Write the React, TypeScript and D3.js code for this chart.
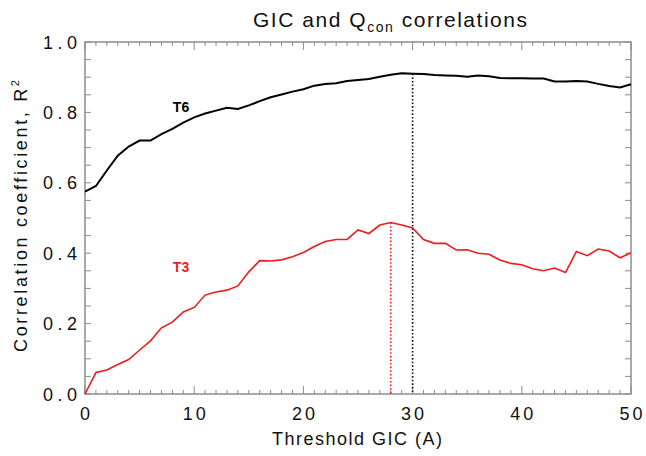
import React from "react";
import * as d3 from "d3";

const thresholds = d3.range(0, 51);
const t6Values = [
  0.575, 0.591, 0.635, 0.677, 0.703, 0.72, 0.72, 0.738, 0.753, 0.771, 0.786,
  0.797, 0.805, 0.813, 0.81, 0.82, 0.832, 0.843, 0.851, 0.859, 0.866, 0.876,
  0.881, 0.883, 0.889, 0.892, 0.895, 0.901, 0.907, 0.911, 0.91, 0.909, 0.906,
  0.905, 0.904, 0.901, 0.905, 0.903, 0.898, 0.897, 0.897, 0.896, 0.896, 0.888,
  0.888, 0.889, 0.888, 0.881, 0.875, 0.871, 0.88,
];
const t3Values = [
  0.0, 0.061, 0.068, 0.084, 0.098, 0.125, 0.151, 0.188, 0.204, 0.233, 0.246,
  0.281, 0.29, 0.295, 0.307, 0.347, 0.379, 0.378, 0.381, 0.39, 0.402, 0.419,
  0.433, 0.439, 0.439, 0.466, 0.456, 0.48, 0.487, 0.48, 0.472, 0.439, 0.428,
  0.428, 0.409, 0.41, 0.4, 0.397, 0.381, 0.371, 0.367, 0.356, 0.35, 0.358,
  0.345, 0.405, 0.393, 0.412, 0.406, 0.387, 0.401,
];
const xTickValues = [0, 10, 20, 30, 40, 50];
const yTickValues = [0, 0.2, 0.4, 0.6, 0.8, 1.0];
const peakT6 = 30;
const peakT3 = 28;

export default function App() {
  const W = 646, H = 456;
  const L = 85, R = 631, T = 42, B = 394;
  const x = d3.scaleLinear().domain([0, 50]).range([L, R]);
  const y = d3.scaleLinear().domain([0, 1]).range([B, T]);
  const line = d3
    .line<number>()
    .x((_, i) => x(thresholds[i]))
    .y((d) => y(d));
  const axisColor = "#8c8c8c";
  const red = "#ec1c1c";
  const font = "'Liberation Sans', Arial, sans-serif";
  const xMinor = d3.range(0, 51, 1);
  const yMinor = d3.range(0, 1.0001, 0.05);

  return (
    <svg
      width={W}
      height={H}
      style={{ position: "absolute", left: 0, top: 0, background: "#fff" }}
      fontFamily={font}
    >
      {/* ticks */}
      {xMinor.map((v) => {
        const major = v % 10 === 0;
        const len = major ? 8 : 4;
        return (
          <g key={"xt" + v} stroke={axisColor} strokeWidth={1}>
            <line x1={x(v)} x2={x(v)} y1={B} y2={B - len} />
            <line x1={x(v)} x2={x(v)} y1={T} y2={T + len} />
          </g>
        );
      })}
      {yMinor.map((v, i) => {
        const len = 6;
        return (
          <g key={"yt" + i} stroke={axisColor} strokeWidth={1}>
            <line x1={L} x2={L + len} y1={y(v)} y2={y(v)} />
            <line x1={R} x2={R - len} y1={y(v)} y2={y(v)} />
          </g>
        );
      })}
      {/* frame */}
      <rect
        x={L}
        y={T}
        width={R - L}
        height={B - T}
        fill="none"
        stroke={axisColor}
        strokeWidth={1.5}
      />
      {/* dotted markers */}
      <line
        x1={x(peakT6)}
        x2={x(peakT6)}
        y1={y(t6Values[peakT6])}
        y2={B}
        stroke="#111"
        strokeWidth={1.6}
        strokeDasharray="1.6,2"
      />
      <line
        x1={x(peakT3)}
        x2={x(peakT3)}
        y1={y(t3Values[peakT3])}
        y2={B}
        stroke={red}
        strokeWidth={1.6}
        strokeDasharray="1.6,2"
      />
      {/* series */}
      <path d={line(t6Values) || ""} fill="none" stroke="#000" strokeWidth={2} />
      <path d={line(t3Values) || ""} fill="none" stroke={red} strokeWidth={1.6} />
      {/* series labels */}
      <text x={181} y={112} fontSize={14} fontWeight="bold" textAnchor="middle" fill="#000">
        T6
      </text>
      <text x={181} y={272} fontSize={14} fontWeight="bold" textAnchor="middle" fill={red}>
        T3
      </text>
      {/* tick labels */}
      {xTickValues.map((v) => (
        <text
          key={"xl" + v}
          x={x(v) + 1.5}
          y={420}
          fontSize={18}
          letterSpacing={3}
          textAnchor="middle"
          fill="#111"
        >
          {v}
        </text>
      ))}
      {yTickValues.map((v) => (
        <text
          key={"yl" + v}
          x={77}
          y={y(v) + 6.5}
          fontSize={18}
          textAnchor="end"
          textLength={34}
          lengthAdjust="spacing"
          fill="#111"
        >
          {v.toFixed(1)}
        </text>
      ))}
      {/* axis titles */}
      <text
        x={(L + R) / 2 - 1}
        y={445}
        fontSize={18}
        textAnchor="middle"
        textLength={170}
        lengthAdjust="spacing"
        fill="#111"
      >
        Threshold GIC (A)
      </text>
      <text
        transform={`translate(27, 216) rotate(-90)`}
        fontSize={18}
        textAnchor="middle"
        textLength={272}
        lengthAdjust="spacing"
        fill="#111"
      >
        Correlation coefficient, R
        <tspan fontSize={11} dy={-8}>2</tspan>
      </text>
      {/* title */}
      <text
        x={390}
        y={27}
        fontSize={21}
        textAnchor="middle"
        textLength={274}
        lengthAdjust="spacing"
        fill="#111"
      >
        GIC and Q<tspan fontSize={14} dy={5}>con</tspan>
        <tspan dy={-5}> correlations</tspan>
      </text>
    </svg>
  );
}
